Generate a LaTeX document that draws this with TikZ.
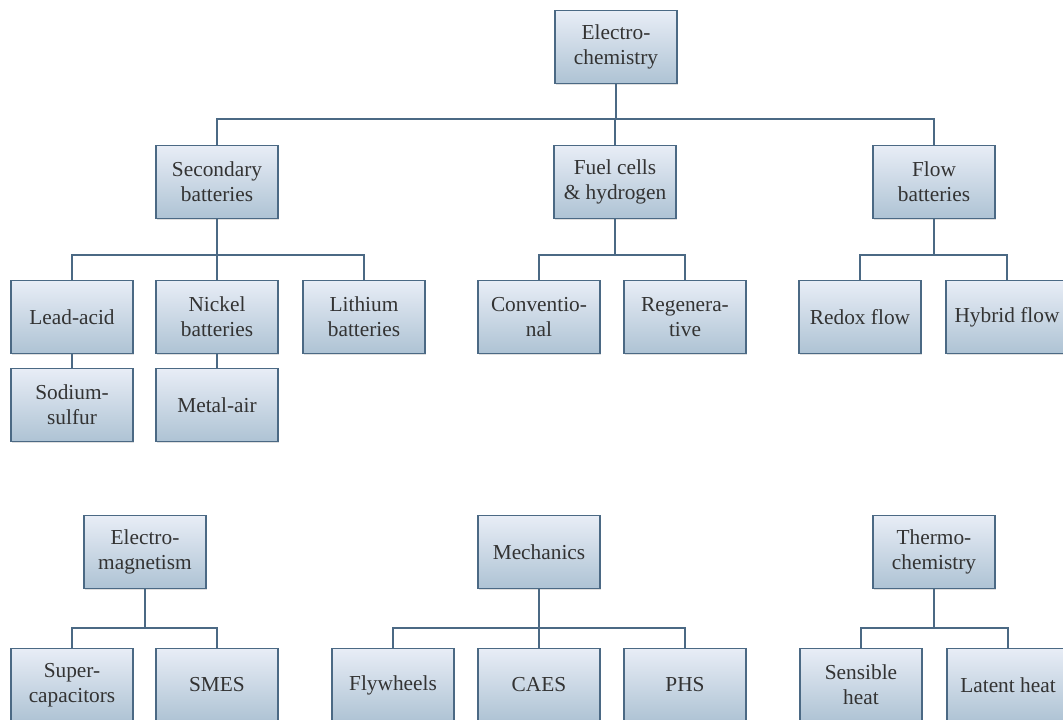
\documentclass[tikz,border=0pt]{standalone}
\usepackage{fontspec}
\setmainfont{Liberation Serif}
\usetikzlibrary{shadows}
\definecolor{edge}{HTML}{4B6984}
\definecolor{boxtop}{HTML}{E8EDF6}
\definecolor{boxbot}{HTML}{AEC3D4}
\tikzset{cat/.style={rectangle,draw=edge,line width=1.4pt,top color=boxtop,bottom color=boxbot,
  minimum width=91.5pt,minimum height=54.75pt,inner sep=1pt,align=center,
  font=\fontsize{16}{18.5}\selectfont,text=black!80,
  drop shadow={shadow xshift=0.8pt,shadow yshift=-0.8pt,opacity=0.25}}}

\begin{document}
\begin{tikzpicture}[x=0.75pt,y=-0.75pt,line width=1.4pt,draw=edge]
\useasboundingbox (0,0) rectangle (1063,720);
\node[cat] (electro) at (616,47) {Electro-\\chemistry};
\node[cat] (secbat) at (217,182) {Secondary\\batteries};
\node[cat] (fuel) at (615,182) {Fuel cells\\\& hydrogen};
\node[cat] (flow) at (934,182) {Flow\\batteries};
\node[cat] (lead) at (72,317) {Lead-acid};
\node[cat] (nickel) at (217,317) {Nickel\\batteries};
\node[cat] (lithium) at (364,317) {Lithium\\batteries};
\node[cat] (sodium) at (72,405) {Sodium-\\sulfur};
\node[cat] (metal) at (217,405) {Metal-air};
\node[cat] (conv) at (539,317) {Conventio-\\nal};
\node[cat] (regen) at (685,317) {Regenera-\\tive};
\node[cat] (redox) at (860,317) {Redox flow};
\node[cat] (hybrid) at (1007,317) {Hybrid flow};
\node[cat] (emag) at (145,552) {Electro-\\magnetism};
\node[cat] (mech) at (539,552) {Mechanics};
\node[cat] (thermo) at (934,552) {Thermo-\\chemistry};
\node[cat] (supercap) at (72,685) {Super-\\capacitors};
\node[cat] (smes) at (217,685) {SMES};
\node[cat] (fly) at (393,685) {Flywheels};
\node[cat] (caes) at (539,685) {CAES};
\node[cat] (phs) at (685,685) {PHS};
\node[cat] (sensible) at (861,685) {Sensible\\heat};
\node[cat] (latent) at (1008,685) {Latent heat};

\foreach \c in {secbat,fuel,flow}
  \draw (electro.south) -- ++(0,34.5) -| (\c.north);
\foreach \p/\c in {secbat/lead,secbat/nickel,secbat/lithium,fuel/conv,fuel/regen,flow/redox,flow/hybrid}
  \draw (\p.south) -- ++(0,35.5) -| (\c.north);
\foreach \p/\c in {emag/supercap,emag/smes,mech/fly,mech/caes,mech/phs,thermo/sensible,thermo/latent}
  \draw (\p.south) -- ++(0,38.5) -| (\c.north);
\draw (lead) -- (sodium);
\draw (nickel) -- (metal);
\end{tikzpicture}
\end{document}
